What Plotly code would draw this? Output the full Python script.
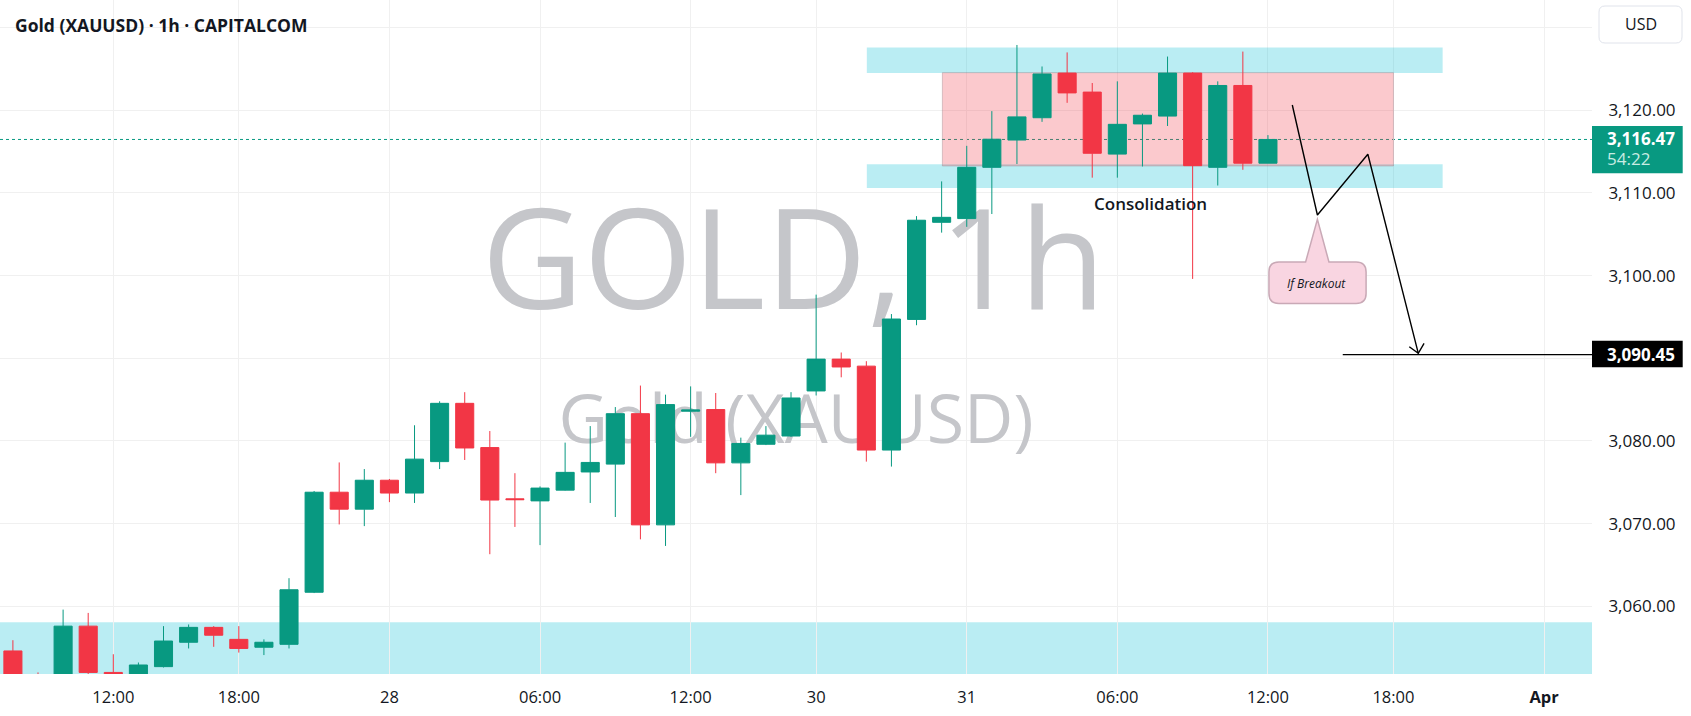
import plotly.graph_objects as go

# ---------------- data ----------------
bar_index = list(range(51))  # hourly bars, 27 Mar 08:00 -> 31 Mar 12:00 (New York time)
opens = [3054.6, 3051.5, 3051.0, 3057.6, 3052.0, 3051.5, 3052.7, 3055.65, 3057.45, 3056.0,
         3055.05, 3055.4, 3061.7, 3073.8, 3071.75, 3075.25, 3073.7, 3077.5, 3084.55, 3079.2,
         3073.0, 3072.75, 3074.05, 3076.25, 3077.2, 3083.3, 3069.85, 3083.6, 3083.8, 3077.35,
         3079.6, 3080.6, 3086.05, 3089.9, 3089.05, 3078.9, 3094.7, 3106.45, 3106.9, 3113.1,
         3116.4, 3119.1, 3124.5, 3122.2, 3114.7, 3118.35, 3119.3, 3124.5, 3113.1, 3123.0,
         3113.6]
highs = [3055.9, 3052.0, 3059.6, 3059.2, 3054.2, 3053.2, 3057.6, 3057.8, 3057.6, 3057.6,
         3056.0, 3063.4, 3073.95, 3077.4, 3076.6, 3075.4, 3081.9, 3084.8, 3085.9, 3081.2,
         3076.1, 3074.5, 3079.8, 3081.8, 3084.1, 3086.7, 3085.6, 3086.6, 3085.8, 3080.4,
         3081.8, 3085.9, 3097.7, 3090.7, 3089.65, 3095.35, 3107.2, 3111.4, 3115.7, 3119.9,
         3127.9, 3125.3, 3127.0, 3123.3, 3123.5, 3119.6, 3126.5, 3124.6, 3123.5, 3127.1,
         3117.0]
lows = [3050.5, 3050.0, 3050.5, 3051.5, 3051.0, 3051.0, 3052.6, 3054.9, 3055.1, 3054.4,
        3054.1, 3054.9, 3061.6, 3069.9, 3069.7, 3072.6, 3072.5, 3076.6, 3077.7, 3066.3,
        3069.6, 3067.4, 3074.0, 3072.5, 3070.8, 3068.1, 3067.3, 3080.5, 3076.1, 3073.45,
        3079.5, 3080.5, 3085.5, 3087.7, 3077.5, 3076.9, 3094.0, 3105.2, 3105.9, 3107.45,
        3113.5, 3118.6, 3120.9, 3111.85, 3111.85, 3113.2, 3118.1, 3099.6, 3110.9, 3112.8,
        3113.6]
closes = [3051.0, 3050.8, 3057.6, 3052.0, 3051.6, 3052.9, 3055.8, 3057.45, 3056.5, 3054.9,
          3055.65, 3062.0, 3073.8, 3071.75, 3075.25, 3073.7, 3077.8, 3084.55, 3079.15, 3072.85,
          3072.9, 3074.3, 3076.2, 3077.4, 3083.3, 3069.85, 3084.4, 3083.75, 3077.35, 3079.7,
          3080.7, 3085.2, 3089.9, 3088.95, 3078.9, 3094.75, 3106.7, 3107.05, 3113.1, 3116.5,
          3119.2, 3124.4, 3122.1, 3114.8, 3118.3, 3119.4, 3124.5, 3113.3, 3123.0, 3113.6,
          3116.47]

x_tick_pos = [4, 9, 15, 21, 27, 32, 38, 44, 50, 55, 61]
x_tick_text = ["12:00", "18:00", "28", "06:00", "12:00", "30", "31", "06:00", "12:00", "18:00", "<b>Apr</b>"]
y_tick_vals = [3060, 3070, 3080, 3090, 3100, 3110, 3120, 3130]
y_tick_text = ["3,060.00", "3,070.00", "3,080.00", "", "3,100.00", "3,110.00", "3,120.00", ""]

last_price = 3116.47
countdown = "54:22"
target_price = 3090.45
title_text = "Gold (XAUUSD) · 1h · CAPITALCOM"

# ---------------- layout constants ----------------
W, H = 1691, 716
ML, MR, MT, MB = 0, 99, 0, 42
PW, PH = W - ML - MR, H - MT - MB
X_RANGE = [-0.514, 62.91]
Y_RANGE = [3051.81, 3133.34]

GREEN = "#089981"
RED = "#F23645"
CYAN = "rgba(0,188,212,0.27)"
PINK = "rgba(242,54,69,0.27)"
TXT = "#131722"
FONT = "Open Sans"


def px_y(pix):
    return 1 - pix / PH


fig = go.Figure()

fig.add_trace(go.Candlestick(
    x=bar_index, open=opens, high=highs, low=lows, close=closes,
    increasing=dict(line=dict(color=GREEN, width=1), fillcolor=GREEN),
    decreasing=dict(line=dict(color=RED, width=1), fillcolor=RED),
    whiskerwidth=0, hoverinfo="skip", showlegend=False,
))

# drawn path (breakout scenario)
fig.add_trace(go.Scatter(
    x=[50.97, 51.97, 53.98, 55.99], y=[3120.64, 3107.33, 3114.68, 3090.6],
    mode="lines", line=dict(color="#000000", width=1.4), hoverinfo="skip", showlegend=False))
fig.add_trace(go.Scatter(
    x=[55.63, 55.99, 56.22], y=[3091.4, 3090.6, 3091.81],
    mode="lines", line=dict(color="#000000", width=1.4), hoverinfo="skip", showlegend=False))

shapes = []
# support zone at bottom
shapes.append(dict(type="rect", xref="paper", yref="y", x0=0, x1=1, y0=Y_RANGE[0], y1=3058.06,
                   fillcolor=CYAN, line=dict(width=0), layer="between"))
# upper/lower cyan bands
shapes.append(dict(type="rect", xref="x", yref="y", x0=34.02, x1=56.96, y0=3124.5, y1=3127.6,
                   fillcolor=CYAN, line=dict(width=0), layer="between"))
shapes.append(dict(type="rect", xref="x", yref="y", x0=34.02, x1=56.96, y0=3110.6, y1=3113.47,
                   fillcolor=CYAN, line=dict(width=0), layer="between"))
# consolidation box
shapes.append(dict(type="rect", xref="x", yref="y", x0=37.03, x1=55.0, y0=3113.26, y1=3124.55,
                   fillcolor=PINK, line=dict(width=1, color="rgba(150,120,128,0.35)"), layer="between"))
# watermarks
shapes.append(dict(type="rect", xref="x", yref="y", x0=21.1, x1=41.1, y0=3095.3, y1=3107.3,
                   fillcolor="rgba(0,0,0,0)", line=dict(width=0), layer="between",
                   label=dict(text="GOLD, 1h", textposition="middle center",
                              font=dict(family=FONT, size=140, color="#c5c6ca"))))
shapes.append(dict(type="rect", xref="x", yref="y", x0=21.2, x1=41.2, y0=3079.3, y1=3085.3,
                   fillcolor="rgba(0,0,0,0)", line=dict(width=0), layer="between",
                   label=dict(text="Gold (XAUUSD)", textposition="middle center",
                              font=dict(family=FONT, size=68, color="#c5c6ca"))))
# last price dotted line
shapes.append(dict(type="line", xref="paper", yref="y", x0=0, x1=1, y0=last_price, y1=last_price,
                   line=dict(color=GREEN, width=1, dash="dot"), layer="between"))
# target line
shapes.append(dict(type="line", xref="x", yref="y", x0=52.98, x1=X_RANGE[1], y0=target_price, y1=target_price,
                   line=dict(color="#000000", width=1.3)))

# callout bubble
xL, xR, yT, yB, rx, ry = 50.04, 53.91, 3101.65, 3096.62, 0.4, 1.21
xa, xb, tx, ty = 51.5, 52.43, 51.97, 3106.8
path = (f"M{xL+rx},{yT} L{xa},{yT} L{tx},{ty} L{xb},{yT} L{xR-rx},{yT} Q{xR},{yT} {xR},{yT-ry} "
        f"L{xR},{yB+ry} Q{xR},{yB} {xR-rx},{yB} L{xL+rx},{yB} Q{xL},{yB} {xL},{yB+ry} "
        f"L{xL},{yT-ry} Q{xL},{yT} {xL+rx},{yT} Z")
shapes.append(dict(type="path", xref="x", yref="y", path=path, fillcolor="#F9D5E1",
                   line=dict(color="#C9A9B6", width=1.5)))

# price-axis label boxes
bx0, bx1 = 1.0, 1 + 90.7 / PW
shapes.append(dict(type="rect", xref="paper", yref="paper", x0=bx0, x1=bx1,
                   y0=px_y(173.3), y1=px_y(126), fillcolor=GREEN, line=dict(width=0)))
shapes.append(dict(type="rect", xref="paper", yref="paper", x0=bx0, x1=bx1,
                   y0=px_y(367.3), y1=px_y(340.7), fillcolor="#000000", line=dict(width=0)))
# USD button
ux0, ux1, uy0, uy1 = 1 + 7 / PW, 1 + 90 / PW, px_y(43), px_y(6)
rpx, rpy = 6 / PW, 6 / PH
usd_path = (f"M{ux0+rpx},{uy1} L{ux1-rpx},{uy1} Q{ux1},{uy1} {ux1},{uy1-rpy} L{ux1},{uy0+rpy} "
            f"Q{ux1},{uy0} {ux1-rpx},{uy0} L{ux0+rpx},{uy0} Q{ux0},{uy0} {ux0},{uy0+rpy} "
            f"L{ux0},{uy1-rpy} Q{ux0},{uy1} {ux0+rpx},{uy1} Z")
shapes.append(dict(type="path", xref="paper", yref="paper", path=usd_path, fillcolor="#ffffff",
                   line=dict(color="#e0e3eb", width=1)))

annotations = [
    dict(xref="paper", yref="paper", x=12.7 / PW, y=px_y(25), xanchor="left", yanchor="middle",
         text=f"<b>{title_text}</b>", showarrow=False, font=dict(family=FONT, size=17.5, color=TXT)),
    dict(xref="x", yref="y", x=45.33, y=3108.72, text="Consolidation", showarrow=False,
         font=dict(family=FONT, size=17, color=TXT, weight=600)),
    dict(xref="x", yref="y", x=51.92, y=3099.1, text="If Breakout", showarrow=False,
         font=dict(family=FONT, size=12, color=TXT, style="italic")),
    dict(xref="paper", yref="paper", x=1, xshift=13, y=px_y(138.3), xanchor="left", yanchor="middle",
         text=f"<b>{last_price:,.2f}</b>", showarrow=False, font=dict(family=FONT, size=17, color="#ffffff")),
    dict(xref="paper", yref="paper", x=1, xshift=13, y=px_y(158.3), xanchor="left", yanchor="middle",
         text=countdown, showarrow=False, font=dict(family=FONT, size=17, color="#c8ece3")),
    dict(xref="paper", yref="paper", x=1, xshift=13, y=px_y(354), xanchor="left", yanchor="middle",
         text=f"<b>{target_price:,.2f}</b>", showarrow=False, font=dict(family=FONT, size=17, color="#ffffff")),
    dict(xref="paper", yref="paper", x=(ux0 + ux1) / 2, y=(uy0 + uy1) / 2, xanchor="center", yanchor="middle",
         text="USD", showarrow=False, font=dict(family=FONT, size=16, color=TXT)),
]

fig.update_layout(
    width=W, height=H, margin=dict(l=ML, r=MR, t=MT, b=MB),
    paper_bgcolor="#ffffff", plot_bgcolor="#ffffff",
    showlegend=False, boxgap=0.28, boxgroupgap=0,
    font=dict(family=FONT, color=TXT),
    shapes=shapes, annotations=annotations,
    xaxis=dict(range=X_RANGE, tickmode="array", tickvals=x_tick_pos, ticktext=x_tick_text,
               showgrid=True, gridcolor="#f0f0f0", gridwidth=1, zeroline=False, showline=False,
               ticks="outside", ticklen=8, tickcolor="rgba(0,0,0,0)",
               tickfont=dict(family=FONT, size=16.5, color=TXT),
               rangeslider=dict(visible=False), fixedrange=True),
    yaxis=dict(range=Y_RANGE, side="right", tickmode="array", tickvals=y_tick_vals, ticktext=y_tick_text,
               showgrid=True, gridcolor="#f0f0f0", gridwidth=1, zeroline=False, showline=False,
               ticks="outside", ticklen=12, tickcolor="rgba(0,0,0,0)",
               tickfont=dict(family=FONT, size=17, color=TXT), fixedrange=True),
)

fig.write_html("out.html")
